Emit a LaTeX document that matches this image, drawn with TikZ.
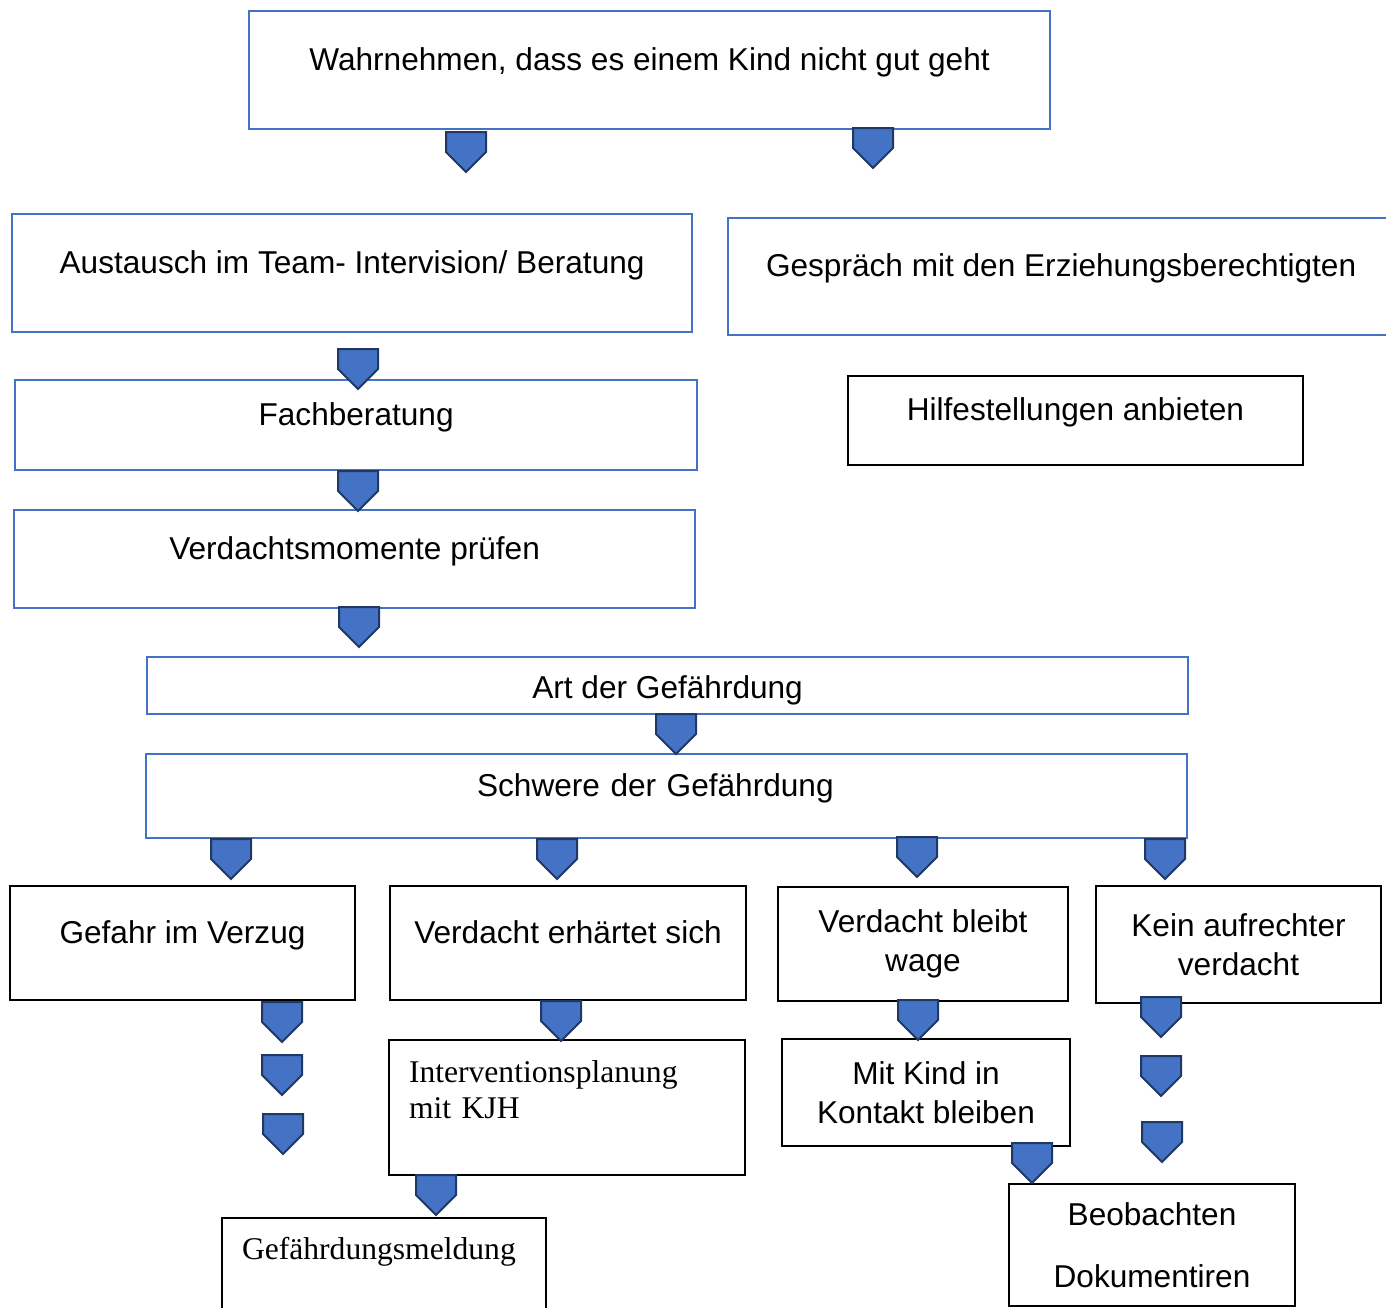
\documentclass[tikz,border=0pt]{standalone}
\usepackage{fontspec}
\setmainfont{Liberation Sans}
\newfontfamily\timesfont{Liberation Serif}
\definecolor{boxblau}{HTML}{4472C4}
\definecolor{pfeilrand}{HTML}{1F3864}
\tikzset{
  pfeilform/.style={fill=boxblau, draw=pfeilrand, line width=2pt, line join=miter},
  pfeil/.pic={\draw[pfeilform] (-20,0) -- (20,0) -- (20,20) -- (0,40) -- (-20,20) -- cycle;},
}
\begin{document}
\begin{tikzpicture}[x=1pt, y=-1pt,
    font=\fontsize{31.6}{39.5}\selectfont,
    blaubox/.style={draw=boxblau, line width=2.2pt, anchor=north west, align=center},
    schwarzbox/.style={draw=black, line width=2pt, anchor=north west, align=center},
    zeile/.style={text height=0.7em, text depth=0.7em}]
  \useasboundingbox (0,0) rectangle (1386,1307);

  \node[blaubox, zeile, minimum width=801, minimum height=118] (wahrnehmen) at (248,10) {Wahrnehmen, dass es einem Kind nicht gut geht};
  \node[blaubox, zeile, minimum width=680, minimum height=118] (austausch) at (11,213) {Austausch im Team- Intervision/ Beratung};
  \node[blaubox, zeile, minimum width=666, minimum height=117] (gespraech) at (727,217) {Gespräch mit den Erziehungsberechtigten};
  \node[blaubox, zeile, minimum width=682, minimum height=90] (fachberatung) at (14,379) {Fachberatung};
  \node[schwarzbox, zeile, minimum width=455, minimum height=89] (hilfe) at (847,375) {Hilfestellungen anbieten};
  \node[blaubox, zeile, minimum width=681, minimum height=98] (pruefen) at (13,509) {Verdachtsmomente prüfen};
  \node[blaubox, minimum width=1041, inner ysep=0, text height=41, text depth=16] (art) at (146,656) {Art der Gefährdung};
  \node[blaubox, zeile, minimum height=84, align=left, inner xsep=331, text width=379] (schwere) at (145,753) {Schwere der Gefährdung};

  \node[schwarzbox, zeile, minimum width=345, minimum height=114] (gefahr) at (9,885) {Gefahr im Verzug};
  \node[schwarzbox, zeile, minimum width=356, minimum height=114] (erhaertet) at (389,885) {Verdacht erhärtet sich};
  \node[schwarzbox, minimum width=290, minimum height=114] (wage) at (777,886) {Verdacht bleibt\\wage};
  \node[schwarzbox, minimum width=285, minimum height=117] (keinverdacht) at (1095,885) {Kein aufrechter\\verdacht};

  \node[schwarzbox, minimum width=356, minimum height=135, align=left, inner xsep=20, text width=316,
        font=\timesfont\fontsize{31.6}{36}\selectfont] (planung) at (388,1039) {Interventionsplanung\\mit KJH\\\mbox{}};
  \node[schwarzbox, align=left, inner xsep=20, inner ysep=0, text width=284, text height=41, text depth=59,
        font=\timesfont\fontsize{31.6}{36}\selectfont] (meldung) at (221,1217) {Gefährdungsmeldung};
  \node[schwarzbox, minimum width=288, minimum height=107] (kontakt) at (781,1038) {Mit Kind in\\Kontakt bleiben};
  \node[schwarzbox, minimum width=286, minimum height=122] (beobachten) at (1008,1183) {Beobachten\\[22pt]Dokumentiren};

  % Pfeile
  \pic at (466,132) {pfeil};
  \pic at (873,128) {pfeil};
  \pic at (358,349) {pfeil};
  \pic at (358,471) {pfeil};
  \pic at (359,607) {pfeil};
  \pic at (676,714) {pfeil};
  \pic at (231,839) {pfeil};
  \pic at (557,839) {pfeil};
  \pic at (917,837) {pfeil};
  \pic at (1165,839) {pfeil};
  \pic at (282,1002) {pfeil};
  \pic at (282,1055) {pfeil};
  \pic at (283,1114) {pfeil};
  \pic at (561,1001) {pfeil};
  \pic at (436,1175) {pfeil};
  \pic at (918,1000) {pfeil};
  \pic at (1032,1143) {pfeil};
  \pic at (1161,997) {pfeil};
  \pic at (1161,1056) {pfeil};
  \pic at (1162,1122) {pfeil};
\end{tikzpicture}
\end{document}
